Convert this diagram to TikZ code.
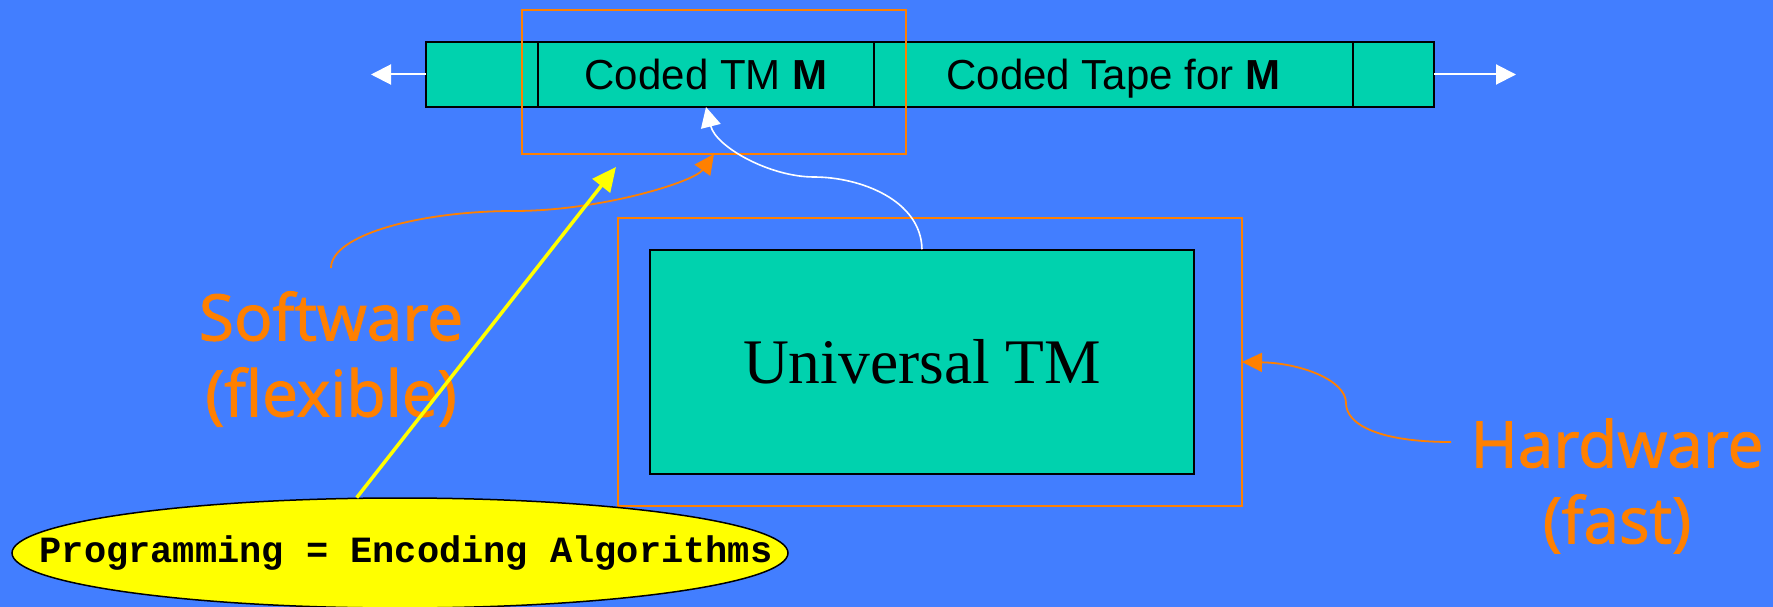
\documentclass[tikz,border=0pt]{standalone}
\usepackage{fontspec}
\setmainfont{Liberation Sans}
\newfontfamily\tmfont{Liberation Serif}
\newfontfamily\codefont{Liberation Mono}
\newfontfamily\notefont{Open Sans}[FakeBold=1.6]
\usetikzlibrary{arrows.meta,positioning,shapes.geometric}
\definecolor{slideblue}{RGB}{66,126,255}
\definecolor{tapegreen}{RGB}{0,210,174}
\definecolor{noteorange}{RGB}{255,128,0}
\definecolor{progyellow}{RGB}{255,255,0}

\tikzset{
  cell/.style={draw=black, line width=1.5pt, fill=tapegreen, minimum height=65pt,
    inner sep=0pt, outer sep=0pt, text height=31pt, text depth=0pt,
    font=\fontsize{42}{50}\selectfont},
  obox/.style={draw=noteorange, line width=1.8pt, inner sep=0pt, outer sep=0pt},
  note/.style={text=noteorange, font=\notefont\fontsize{64}{76}\selectfont, align=center},
  notearrow/.style={draw=noteorange, line width=1.8pt, -{Triangle[length=20pt,width=19pt]}},
  tapearrow/.style={draw=white, line width=2pt, -{Triangle[length=20pt,width=20pt]}},
}

\begin{document}
\begin{tikzpicture}[x=1pt,y=-1pt,node distance=0pt]
    \fill[slideblue](0,0)rectangle(1773,607);
    \useasboundingbox(0,0)rectangle(1773,607);

    \node[cell, minimum width=112pt](cellL)at(482,74.5){};
    \node[cell, minimum width=336pt, right=of cellL](cellM){Coded TM \textbf{M}};
    \node[cell, minimum width=479pt, right=of cellM](cellT){Coded Tape for \textbf{M}};
    \node[cell, minimum width=81pt, right=of cellT](cellR){};
    \coordinate(tapeL)at(371,74.5);
    \coordinate(tapeR)at(1516,74.5);
    \draw[tapearrow](cellL.west)--(tapeL);
    \draw[tapearrow](cellR.east)--(tapeR);

    \node[obox, minimum width=384pt, minimum height=144pt](swbox)at(714,82){};
    \node[obox, minimum width=624pt, minimum height=288pt](hwbox)at(930,362){};
    \node[draw=black, line width=1.5pt, fill=tapegreen, minimum width=544pt, minimum height=224pt,
      inner sep=0pt, font=\tmfont\fontsize{63.5}{70}\selectfont](utm)at(922,362){Universal TM};

    \draw[tapearrow, line width=1.6pt](utm.north)..controls(921,200)and(860,177)..(814,177)
        ..controls(770,177)and(716,147)..(cellM.south);

    \node[note](sw)at(331,359){Software\\(flexible)};
    \node[note](hw)at(1617,486){Hardware\\(fast)};
    \coordinate(swtail)at(331,268);
    \coordinate(hwtail)at(1451,442);
    \draw[notearrow](swtail)..controls(331,235)and(420,211)..(514,211)
        ..controls(600,211)and(694,182)..(swbox.south);
    \draw[notearrow](hwtail)..controls(1380,442)and(1346,425)..(1346,403)
        ..controls(1346,380)and(1300,363)..(hwbox.east);

    \node[draw=black, line width=1.5pt, fill=progyellow, ellipse, minimum width=776pt, minimum height=110pt,
      inner sep=0pt, label={[xshift=6pt, font=\codefont\bfseries\fontsize{37}{40}\selectfont]center:Programming = Encoding Algorithms}](prog)at(400,553){};
    \coordinate(pgtip)at(616,167);
    \draw[progyellow, line width=3.5pt, -{Triangle[length=24pt,width=22pt]}](prog.128)--(pgtip);
\end{tikzpicture}
\end{document}
